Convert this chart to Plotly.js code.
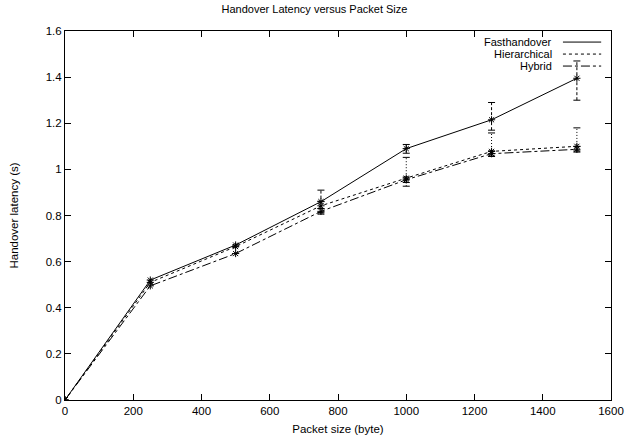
<!DOCTYPE html>
<html>
<head>
<meta charset="utf-8">
<script src="https://cdn.plot.ly/plotly-3.0.1.min.js"></script>
<style>html,body{margin:0;padding:0;background:#fff;}#chart{width:629px;height:441px;}</style>
</head>
<body>
<div id="chart"></div>
<script>
// ---- data ----
const packetSize = [0, 250, 500, 750, 1000, 1250, 1500];
const seriesNames = ["Fasthandover", "Hierarchical", "Hybrid"];
const fastLatency = [0, 0.52, 0.672, 0.86, 1.09, 1.215, 1.395];
const hierLatency = [0, 0.51, 0.665, 0.842, 0.962, 1.078, 1.10];
const hybLatency  = [0, 0.495, 0.635, 0.818, 0.955, 1.068, 1.087];
const fastErrUp   = [0, 0.008, 0.008, 0.05, 0.018, 0.075, 0.075];
const fastErrDown = [0, 0.008, 0.008, 0.03, 0.02, 0.045, 0.095];
const hierErrUp   = [0, 0.008, 0.008, 0.02, 0.09, 0.08, 0.08];
const hierErrDown = [0, 0.008, 0.008, 0.03, 0.035, 0.02, 0.02];
const hybErrUp    = [0, 0.008, 0.008, 0.012, 0.012, 0.012, 0.012];
const hybErrDown  = [0, 0.008, 0.008, 0.012, 0.012, 0.012, 0.012];
const xTicks = [0, 200, 400, 600, 800, 1000, 1200, 1400, 1600];
const yTicks = [0, 0.2, 0.4, 0.6, 0.8, 1, 1.2, 1.4, 1.6];

const FONT = "Liberation Sans, Arial, sans-serif";
const dashes = ["solid", "dot", "dashdot"];
const errDashes = ["3px,2px", "1px,2px", "3px,2px"];
const allY = [fastLatency, hierLatency, hybLatency];
const allUp = [fastErrUp, hierErrUp, hybErrUp];
const allDown = [fastErrDown, hierErrDown, hybErrDown];

const traces = [];
allY.forEach((ys, i) => {
  const ex = [], ey = [];
  packetSize.forEach((x, k) => {
    if (allUp[i][k] + allDown[i][k] > 0.02) {
      ex.push(x, x, null);
      ey.push(ys[k] - allDown[i][k], ys[k] + allUp[i][k], null);
    }
  });
  traces.push({
    x: ex, y: ey, mode: "lines+markers", showlegend: false, hoverinfo: "skip",
    line: {color: "#000", width: 1, dash: errDashes[i]},
    marker: {symbol: "line-ew-open", size: 5, color: "#000", line: {width: 1, color: "#000"}}
  });
  traces.push({
    x: packetSize, y: ys, name: seriesNames[i], mode: "lines+markers", showlegend: false,
    line: {color: "#000", width: 1, dash: dashes[i]},
    marker: {symbol: "asterisk-open", size: 6, color: "#000", line: {width: 1, color: "#000"}}
  });
});

// gnuplot-style legend (text right-aligned, sample line to the right)
const annotations = [];
const shapes = [];
seriesNames.forEach((n, i) => {
  const yp = 0.97 - i * 0.0325;
  annotations.push({
    xref: "paper", yref: "paper", x: 0.895, y: yp, xanchor: "right", yanchor: "middle",
    text: n, showarrow: false, font: {family: FONT, size: 11, color: "#000"}
  });
  shapes.push({
    type: "line", xref: "paper", yref: "paper", x0: 0.912, x1: 0.982, y0: yp, y1: yp,
    line: {color: "#000", width: 1, dash: dashes[i]}
  });
});

const axisCommon = {
  showgrid: false, zeroline: false, showline: true, mirror: "ticks",
  linecolor: "#000", linewidth: 1, ticks: "inside", ticklen: 6, tickcolor: "#000",
  tickfont: {family: FONT, size: 11.5, color: "#000"}
};

const layout = {
  width: 629, height: 441,
  margin: {l: 65, r: 18, t: 31, b: 41},
  paper_bgcolor: "#fff", plot_bgcolor: "#fff",
  title: {text: "Handover Latency versus Packet Size", x: 0.5, xanchor: "center", y: 0.988, yanchor: "top",
          font: {family: FONT, size: 11, color: "#000"}},
  xaxis: Object.assign({}, axisCommon, {
    range: [0, 1600], tickvals: xTicks, ticktext: xTicks.map(String),
    title: {text: "Packet size (byte)", standoff: 9, font: {family: FONT, size: 11.5, color: "#000"}}
  }),
  yaxis: Object.assign({}, axisCommon, {
    range: [0, 1.6], tickvals: yTicks, ticktext: yTicks.map(String),
    title: {text: "Handover latency (s)", standoff: 24, font: {family: FONT, size: 11.5, color: "#000"}}
  }),
  annotations: annotations,
  shapes: shapes,
  showlegend: false
};

Plotly.newPlot("chart", traces, layout, {displayModeBar: false, staticPlot: true});
</script>
</body>
</html>
